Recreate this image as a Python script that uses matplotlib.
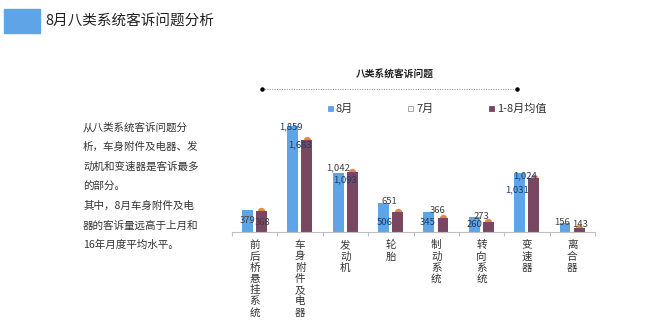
import matplotlib
matplotlib.use("Agg")
import matplotlib.pyplot as plt
from matplotlib.patches import Rectangle
from matplotlib.lines import Line2D

plt.rcParams["font.family"] = ["Noto Sans CJK SC", "DejaVu Sans"]

CATEGORIES = ["前后桥悬挂系统", "车身附件及电器", "发动机", "轮胎", "制动系统", "转向系统", "变速器", "离合器"]
AUG = [379, 1859, 1042, 506, 345, 260, 1031, 156]
JUL = [368, 1683, 1093, 651, 366, 273, 1024, 143]
AVG = [374, 1614, 1058, 356, 246, 181, 947, 70]   # 1-8月均值 (no labels)

TEXT_LINES = [
    "从八类系统客诉问题分",
    "析，车身附件及电器、发",
    "动机和变速器是客诉最多",
    "的部分。",
    "其中，8月车身附件及电",
    "器的客诉量远高于上月和",
    "16年月度平均水平。",
]

BLUE = "#5DA5E6"
PLUM = "#7A4762"
ORANGE = "#E8893A"
NAVY = "#1E3A66"
GREY = "#404040"

# label offsets in pixels (dx right, dy down) relative to the bar top
AUG_OFF = [(0, 10.6), (-1.5, 1), (0, -4.6), (1, 19), (-1.5, 10), (0, 7), (-3, 17), (-3, -1)]
AUG_COL = [GREY, NAVY, GREY, NAVY, NAVY, NAVY, NAVY, GREY]
JUL_OFF = [(8.3, 11), (0, 9), (-0.5, 10), (-1, 7), (1.7, -1), (0.3, 0), (-2, 2), (7.5, 1)]
JUL_COL = [GREY, NAVY, NAVY, GREY, GREY, GREY, NAVY, GREY]

W, H = 645, 324
fig = plt.figure(figsize=(W / 100, H / 100), dpi=100)


def fx(px):
    return px / W


def fy(py):
    return 1 - py / H


# header
fig.patches.append(Rectangle((fx(4), fy(33)), fx(36), (33 - 9) / H, transform=fig.transFigure,
                             color=BLUE, zorder=0))
fig.text(fx(45), fy(21), "8月八类系统客诉问题分析", fontsize=10.5, color="#222222", va="center")

# left paragraph
for i, line in enumerate(TEXT_LINES):
    fig.text(fx(83), fy(127 + 19.7 * i), line, fontsize=7.6, color="#333333", va="center")

# chart title + dotted rule
fig.text(fx(395), fy(74), "八类系统客诉问题", fontsize=7, fontweight="bold", color="#222222",
         ha="center", va="center")
fig.add_artist(Line2D([fx(262), fx(517)], [fy(89), fy(89)], transform=fig.transFigure,
                      color="#888888", lw=0.7, linestyle=(0, (1, 1.5))))
fig.add_artist(Line2D([fx(262), fx(517)], [fy(89), fy(89)], transform=fig.transFigure,
                      color="black", lw=0, marker="o", markersize=2.2))

# legend
leg = [(328, BLUE, BLUE, "8月"), (408, "white", "#999999", "7月"), (489, PLUM, PLUM, "1-8月均值")]
for x0, fc, ec, txt in leg:
    fig.patches.append(Rectangle((fx(x0), fy(111)), fx(5), 5 / H, transform=fig.transFigure,
                                 facecolor=fc, edgecolor=ec, lw=0.6))
    fig.text(fx(x0 + 8), fy(108.5), txt, fontsize=8, color="#333333", va="center")

# axes
ax = fig.add_axes([fx(232), fy(232), fx(363), 114 / H])
x = list(range(len(CATEGORIES)))
bw = 0.24
xb = [i - 0.16 for i in x]
xp = [i + 0.15 for i in x]
ax.bar(xb, AUG, bw, color=BLUE, zorder=2)
ax.bar(xp, AVG, bw, color=PLUM, zorder=2)
ax.scatter(xp, AVG, s=28, color=ORANGE, zorder=1.5, linewidths=0)

for i in x:
    dx, dy = AUG_OFF[i]
    ax.annotate(f"{AUG[i]:,}", (xb[i], AUG[i]), xytext=(dx * 0.72, -dy * 0.72),
                textcoords="offset points", ha="center", va="center", fontsize=6.8,
                color=AUG_COL[i], zorder=3)
    dx, dy = JUL_OFF[i]
    ax.annotate(f"{JUL[i]:,}", (i, JUL[i]), xytext=(dx * 0.72, -dy * 0.72),
                textcoords="offset points", ha="center", va="center", fontsize=6.8,
                color=JUL_COL[i], zorder=3)

ax.set_xlim(-0.5, len(CATEGORIES) - 0.5)
ax.set_ylim(0, 2000)
for s in ["top", "right", "left"]:
    ax.spines[s].set_visible(False)
ax.spines["bottom"].set_color("#BFBFBF")
ax.spines["bottom"].set_linewidth(0.8)
ax.set_yticks([])
ax.set_xticks([i - 0.5 for i in range(len(CATEGORIES) + 1)])
ax.set_xticklabels([])
ax.tick_params(axis="x", which="major", length=3, color="#BFBFBF", width=0.8)
ax.set_xticks(x, minor=True)
ax.set_xticklabels(["\n".join(c) for c in CATEGORIES], minor=True, fontsize=7.6,
                   color="#333333", linespacing=1.15, va="top")
ax.tick_params(axis="x", which="minor", length=0, pad=6)
ax.patch.set_alpha(0)

fig.savefig("out.png", dpi=100)
